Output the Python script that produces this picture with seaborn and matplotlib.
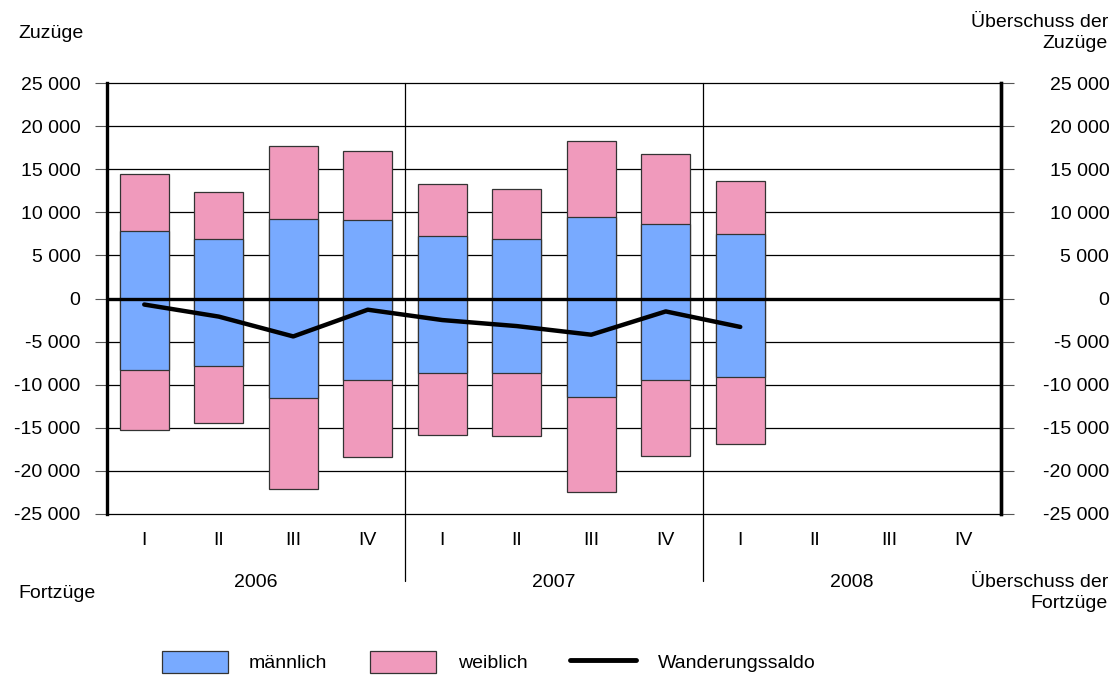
import numpy as np
import pandas as pd
import matplotlib
matplotlib.use('Agg')
import matplotlib.pyplot as plt
import seaborn as sns
from matplotlib.patches import Patch
from matplotlib.lines import Line2D

# Daten
jahre = ['2006', '2007', '2008']
quartale = ['I', 'II', 'III', 'IV']
zuzug_m = [7800, 6900, 9250, 9050, 7300, 6900, 9400, 8700, 7500]
zuzug_w = [6700, 5500, 8450, 8050, 6000, 5800, 8900, 8100, 6100]
fortzug_m = [8300, 7800, 11600, 9500, 8600, 8700, 11400, 9500, 9100]
fortzug_w = [6900, 6700, 10500, 8900, 7200, 7200, 11100, 8800, 7800]
saldo = [-700, -2100, -4400, -1300, -2500, -3200, -4200, -1500, -3300]

order = [f'{j} {q}' for j in jahre for q in quartale]
n = len(zuzug_m)
df = pd.DataFrame({
    'periode': order[:n],
    'zu_m': zuzug_m,
    'zu_ges': np.add(zuzug_m, zuzug_w),
    'fort_m': -np.array(fortzug_m),
    'fort_ges': -np.add(fortzug_m, fortzug_w),
})

blau = '#78AAFF'
rosa = '#F09ABC'
fs = 14

sns.set_style('white')
plt.rcParams['font.family'] = ['Liberation Sans', 'DejaVu Sans']
plt.rcParams['text.color'] = 'black'
plt.rcParams['xtick.color'] = 'black'
plt.rcParams['ytick.color'] = 'black'
plt.rcParams['axes.edgecolor'] = 'black'

fig = plt.figure(figsize=(11.2, 6.77), dpi=100)
ax = fig.add_axes([107 / 1120, 1 - 514 / 677, 894 / 1120, 431 / 677])

bar_kw = dict(order=order, width=0.66, saturation=1, errorbar=None,
              edgecolor='#333333', linewidth=0.9, ax=ax, zorder=3)
for col, c in [('zu_ges', rosa), ('zu_m', blau), ('fort_ges', rosa), ('fort_m', blau)]:
    sns.barplot(data=df, x='periode', y=col, color=c, **bar_kw)

sns.lineplot(x=np.arange(n), y=saldo, color='black', linewidth=3.2, ax=ax,
             zorder=6, solid_capstyle='round', solid_joinstyle='round')

ax.set_xlim(-0.5, 11.5)
ax.set_ylim(-25000, 25000)
yt = np.arange(-25000, 25001, 5000)
ylab = [f'{v:,}'.replace(',', ' ') for v in yt]
ax.set_yticks(yt)
ax.set_yticklabels(ylab, fontsize=fs)
ax.set_xticks(range(12))
ax.set_xticklabels(quartale * 3, fontsize=fs)
ax.set_xlabel('')
ax.set_ylabel('')
ax.tick_params(axis='x', length=0, pad=13)
ax.tick_params(axis='y', length=9, width=0.8, color='#555555', pad=10)

for v in yt:
    if v != 0:
        ax.axhline(v, color='black', linewidth=0.9, zorder=1, clip_on=False)
ax.axhline(0, color='black', linewidth=2.4, zorder=5)

for xv in [3.5, 7.5]:
    ax.axvline(xv, ymin=-0.155, ymax=1, color='black', linewidth=0.9,
               clip_on=False, zorder=1)

for s in ['top', 'bottom']:
    ax.spines[s].set_visible(False)
for s in ['left', 'right']:
    ax.spines[s].set_linewidth(2.4)
    ax.spines[s].set_color('black')

ax2 = ax.twinx()
ax2.set_ylim(-25000, 25000)
ax2.set_yticks(yt)
ax2.set_yticklabels(ylab, fontsize=fs)
for lab in ax2.get_yticklabels():
    lab.set_horizontalalignment('right')
ax2.tick_params(axis='y', length=9, width=0.8, color='#555555', pad=69)
for s in ['top', 'bottom', 'left']:
    ax2.spines[s].set_visible(False)
ax2.spines['right'].set_linewidth(2.4)
ax2.spines['right'].set_color('black')

for i, j in enumerate(jahre):
    ax.text(i * 4 + 1.5, -0.158, j, transform=ax.get_xaxis_transform(),
            ha='center', va='center', fontsize=fs)

fig.text(18 / 1120, 1 - 33 / 677, 'Zuzüge', ha='left', va='center', fontsize=fs)
fig.text(18 / 1120, 1 - 593 / 677, 'Fortzüge', ha='left', va='center', fontsize=fs)
fig.text(1108 / 1120, 1 - 33 / 677, 'Überschuss der\nZuzüge', ha='right', va='center',
         fontsize=fs, multialignment='right', linespacing=1.35)
fig.text(1108 / 1120, 1 - 593 / 677, 'Überschuss der\nFortzüge', ha='right', va='center',
         fontsize=fs, multialignment='right', linespacing=1.35)

handles = [Patch(facecolor=blau, edgecolor='#333333', linewidth=0.9, label='männlich'),
           Patch(facecolor=rosa, edgecolor='#333333', linewidth=0.9, label='weiblich'),
           Line2D([], [], color='black', linewidth=3.5, label='Wanderungssaldo')]
fig.legend(handles=handles, loc='center left', bbox_to_anchor=(144 / 1120, 1 - 662 / 677),
           ncol=3, frameon=False, fontsize=fs, handlelength=3.4, handleheight=1.35,
           handletextpad=1.1, columnspacing=2.2)

fig.savefig('out.png', dpi=100)
